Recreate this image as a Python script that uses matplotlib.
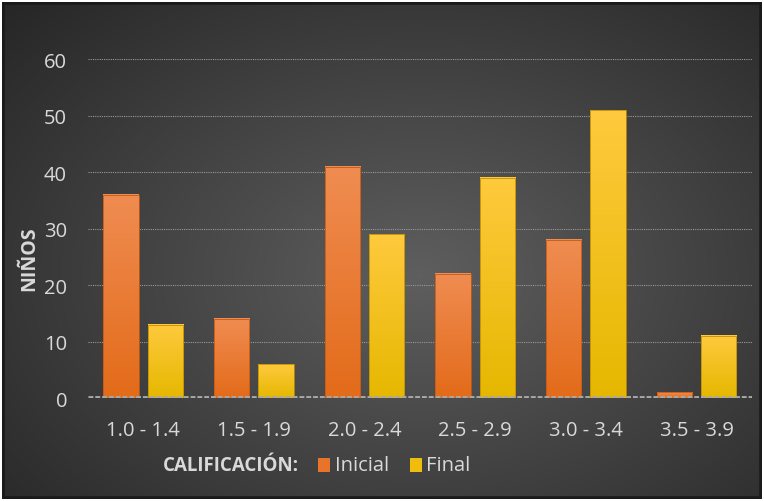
import numpy as np
import matplotlib.pyplot as plt
from matplotlib.patches import Rectangle

categories = ['1.0 - 1.4', '1.5 - 1.9', '2.0 - 2.4', '2.5 - 2.9', '3.0 - 3.4', '3.5 - 3.9']
inicial = [36, 14, 41, 22, 28, 1]
final = [13, 6, 29, 39, 51, 11]
yticks = [0, 10, 20, 30, 40, 50, 60]

plt.rcParams['font.family'] = ['Open Sans', 'DejaVu Sans']
txt = '#d9d9d9'

fig = plt.figure(figsize=(7.64, 5.02), dpi=100)
fig.patch.set_facecolor('white')

# background: dark radial gradient
bg = fig.add_axes([0.003, 0.004, 0.994, 0.99])
yy, xx = np.mgrid[0:1:300j, 0:1:460j]
r = np.sqrt(((xx - 0.55) / 0.75) ** 2 + ((yy - 0.45) / 0.8) ** 2)
g = np.clip(0.37 - 0.22 * r, 0.14, 0.37)
img = np.dstack([g, g, g])
bg.imshow(img, extent=[0, 1, 0, 1], aspect='auto', origin='lower')
bg.add_patch(Rectangle((0, 0), 1, 1, fill=False, ec='#1a1a1a', lw=4))
bg.set_axis_off()

ax = fig.add_axes([0.115, 0.205, 0.869, 0.6745])
ax.set_facecolor('none')
x = np.arange(len(categories))
w = 0.32
b1 = ax.bar(x - 0.2, inicial, w, color='none', edgecolor='#c55a11', lw=0.6, zorder=3)
b2 = ax.bar(x + 0.2, final, w, color='none', edgecolor='#bf9000', lw=0.6, zorder=3)

grad = np.linspace(0, 1, 100).reshape(-1, 1)
def fill_grad(bars, top, bottom):
    top = np.array(top); bottom = np.array(bottom)
    cols = bottom + (top - bottom) * grad[..., None]
    for b in bars:
        x0, y0 = b.get_x(), b.get_y()
        ax.imshow(cols, extent=[x0, x0 + b.get_width(), y0, y0 + b.get_height()],
                  aspect='auto', origin='lower', zorder=2)

fill_grad(b1, (0.94, 0.55, 0.32), (0.89, 0.42, 0.10))
fill_grad(b2, (1.0, 0.79, 0.24), (0.90, 0.72, 0.0))

ax.set_xlim(-0.5, len(categories) - 0.5)
ax.set_ylim(0, 60)
ax.set_yticks(yticks)
ax.yaxis.grid(True, color='#9a9a9a', ls=(0, (1, 1)), lw=0.8, zorder=1)
ax.axhline(0, color='#a8a8a8', lw=3.5, ls=(0, (1, 0.4)), zorder=4)
ax.set_xticks(x)
ax.set_xticklabels(categories)
for s in ax.spines.values():
    s.set_visible(False)
ax.tick_params(length=0, colors=txt)
ax.tick_params(axis='x', pad=16, labelsize=14.5)
ax.tick_params(axis='y', pad=15, labelsize=14.5)

fig.text(0.038, 0.484, 'NIÑOS', color=txt, fontsize=14, fontweight='bold',
         rotation=90, ha='center', va='center')

# legend row
fig.text(0.213, 0.072, 'CALIFICACIÓN:', color=txt, fontsize=13.5, fontweight='bold', va='center')
fig.patches.append(Rectangle((0.416, 0.058), 0.016, 0.028, transform=fig.transFigure,
                             fc='#e8732a', ec='none'))
fig.text(0.439, 0.072, 'Inicial', color=txt, fontsize=14.5, va='center')
fig.patches.append(Rectangle((0.537, 0.058), 0.016, 0.028, transform=fig.transFigure,
                             fc='#f0bd0f', ec='none'))
fig.text(0.558, 0.072, 'Final', color=txt, fontsize=14.5, va='center')

fig.savefig('out.png', dpi=100, facecolor=fig.get_facecolor())
